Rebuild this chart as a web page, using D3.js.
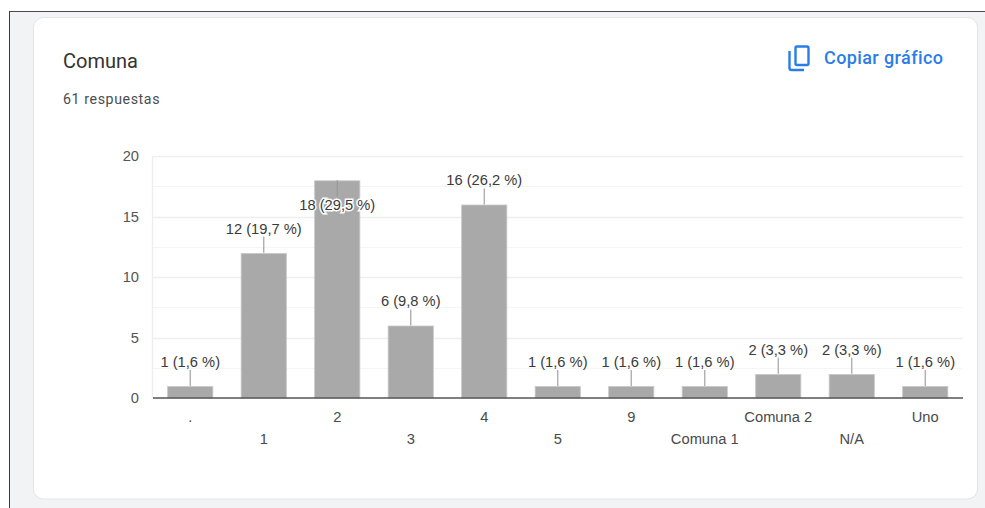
<!DOCTYPE html>
<html>
<head>
<meta charset="utf-8">
<script src="https://cdn.jsdelivr.net/npm/d3@7"></script>
<style>
html, body { margin: 0; padding: 0; background: #fff; overflow: hidden; }
svg { display: block; }
</style>
</head>
<body>
<svg id="chart" width="985" height="508"></svg>
<script>
const categories = ['.', '1', '2', '3', '4', '5', '9', 'Comuna 1', 'Comuna 2', 'N/A', 'Uno'];
const counts = [1, 12, 18, 6, 16, 1, 1, 1, 2, 2, 1];
const percents = ['1,6', '19,7', '29,5', '9,8', '26,2', '1,6', '1,6', '1,6', '3,3', '3,3', '1,6'];
const majorTicks = [0, 5, 10, 15, 20];
const minorTicks = [2.5, 7.5, 12.5, 17.5];

const svg = d3.select('#chart');
const chartFont = 'Arial, "Liberation Sans", sans-serif';

// page background and screenshot edges
svg.append('rect').attr('x', 10).attr('y', 11).attr('width', 975).attr('height', 497).attr('fill', '#f1f3f4');
svg.append('line').attr('x1', 9.5).attr('x2', 9.5).attr('y1', 11).attr('y2', 508).attr('stroke', '#3c3c3c');
svg.append('line').attr('x1', 9).attr('x2', 985).attr('y1', 11.5).attr('y2', 11.5).attr('stroke', '#4a4a4a');

// card
svg.append('rect')
    .attr('x', 33.5).attr('y', 17.5).attr('width', 944).attr('height', 481.5).attr('rx', 10)
    .attr('fill', '#fff').attr('stroke', '#e3e5e8');

// header
svg.append('text').attr('x', 63).attr('y', 68)
    .attr('font-family', 'Roboto').attr('font-size', 20).attr('fill', '#333').text('Comuna');
svg.append('text').attr('x', 63).attr('y', 104)
    .attr('font-family', 'Roboto').attr('font-size', 14.2).attr('letter-spacing', 0.6).attr('fill', '#4a4d50').text('61 respuestas');

// copy icon
const icon = svg.append('g').attr('transform', 'translate(788,45)')
    .attr('fill', 'none').attr('stroke', '#2a7de9').attr('stroke-width', 2.4);
icon.append('rect').attr('x', 7.5).attr('y', 1.5).attr('width', 13).attr('height', 18.5).attr('rx', 1.5);
icon.append('path').attr('d', 'M1.5 6 V23 a2 2 0 0 0 2 2 H16');
svg.append('text').attr('x', 824).attr('y', 64)
    .attr('font-family', 'Roboto').attr('font-size', 18).attr('letter-spacing', 0.4).attr('font-weight', 500).attr('fill', '#2a7de9').text('Copiar gráfico');

// scales
const x = d3.scaleBand().domain(categories).range([153.5, 962]).paddingInner(0.385).paddingOuter(0.1925);
const y = d3.scaleLinear().domain([0, 20]).range([398, 156]);

// grid
const plot = svg.append('g');
plot.selectAll('.minor').data(minorTicks).join('line').attr('class', 'minor')
    .attr('x1', 153).attr('x2', 963).attr('y1', d => Math.round(y(d)) + 0.5).attr('y2', d => Math.round(y(d)) + 0.5)
    .attr('stroke', '#f5f5f5');
plot.selectAll('.major').data(majorTicks.filter(d => d > 0)).join('line').attr('class', 'major')
    .attr('x1', 153).attr('x2', 963).attr('y1', d => Math.round(y(d)) + 0.5).attr('y2', d => Math.round(y(d)) + 0.5)
    .attr('stroke', '#eeeeee').attr('stroke-width', 1.4);
plot.append('line').attr('x1', 152.5).attr('x2', 152.5).attr('y1', 156).attr('y2', 398)
    .attr('stroke', '#eeeeee').attr('stroke-width', 1.4);

// y axis
const yAxis = d3.axisLeft(y).tickValues(majorTicks).tickSize(0).tickPadding(0);
const yG = svg.append('g').attr('transform', 'translate(139,0)').call(yAxis);
yG.select('.domain').remove();
yG.selectAll('text').attr('font-family', chartFont).attr('font-size', 14.7).attr('fill', '#555');

// bars
svg.selectAll('.bar').data(categories).join('rect').attr('class', 'bar')
    .attr('x', d => x(d))
    .attr('width', x.bandwidth())
    .attr('y', (d, i) => y(counts[i]) + 0.6)
    .attr('height', (d, i) => y(0) - y(counts[i]) - 0.6)
    .attr('fill', '#a9a9a9')
    .attr('stroke', '#c8c8c8').attr('stroke-width', 0.8);

// baseline
svg.append('line').attr('x1', 153).attr('x2', 963).attr('y1', 398).attr('y2', 398)
    .attr('stroke', '#555').attr('stroke-width', 1.6);

// stems and value labels
const cx = d => x(d) + x.bandwidth() / 2;
svg.selectAll('.stem').data(categories).join('line').attr('class', 'stem')
    .attr('x1', cx).attr('x2', cx)
    .attr('y1', (d, i) => y(counts[i]))
    .attr('y2', (d, i) => y(counts[i]) + (counts[i] === 18 ? 16 : -16))
    .attr('stroke', (d, i) => counts[i] === 18 ? '#999' : '#a9a9a9')
    .attr('stroke-width', 1.3);

svg.selectAll('.val').data(categories).join('text').attr('class', 'val')
    .attr('x', cx)
    .attr('y', (d, i) => y(counts[i]) + (counts[i] === 18 ? 30 : -19))
    .attr('text-anchor', 'middle')
    .attr('font-family', chartFont).attr('font-size', 14.7).attr('fill', '#3a3a3a')
    .attr('stroke', (d, i) => counts[i] === 18 ? '#fff' : 'none')
    .attr('stroke-width', 3).attr('paint-order', 'stroke')
    .text((d, i) => `${counts[i]} (${percents[i]} %)`);

// category labels stagger on two rows
svg.selectAll('.cat').data(categories).join('text').attr('class', 'cat')
    .attr('x', cx)
    .attr('y', (d, i) => i % 2 === 0 ? 422 : 443.5)
    .attr('text-anchor', 'middle')
    .attr('font-family', chartFont).attr('font-size', 14.7).attr('fill', '#4a4a4a')
    .text(d => d);
</script>
</body>
</html>
